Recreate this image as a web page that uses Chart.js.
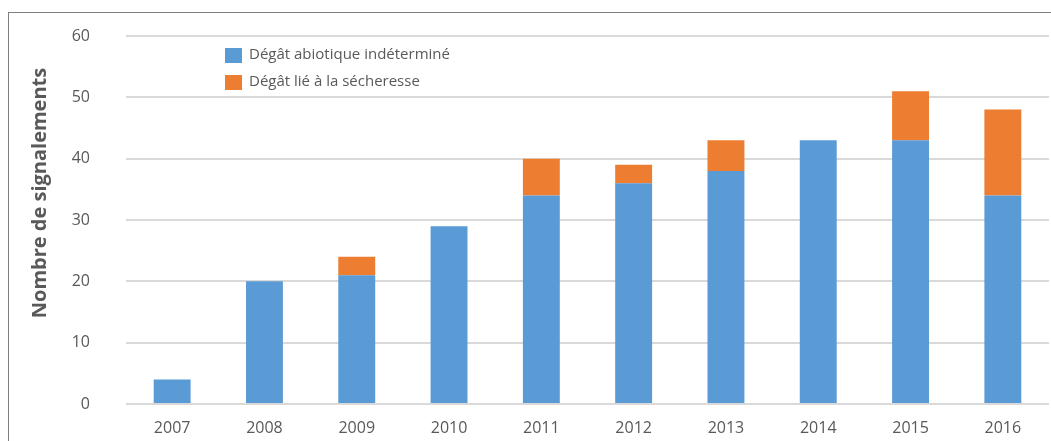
<!DOCTYPE html>
<html lang="fr">
<head>
<meta charset="utf-8">
<title>Signalements de dégâts abiotiques</title>
<script src="https://cdn.jsdelivr.net/npm/chart.js@4"></script>
<style>
  html, body { margin: 0; padding: 0; background: #fff; overflow: hidden; }
  #wrap { position: relative; width: 1051px; height: 441px; }
  #frame { position: absolute; left: 8px; top: 12px; width: 1100px; height: 500px;
           border-left: 1px solid #7f7f7f; border-top: 1px solid #7f7f7f; }
  #box { position: absolute; left: 0; top: 0; width: 1051px; height: 441px; }
</style>
</head>
<body>
<div id="wrap">
  <div id="frame"></div>
  <div id="box"><canvas id="myChart"></canvas></div>
</div>
<script>
const annees = ["2007", "2008", "2009", "2010", "2011", "2012", "2013", "2014", "2015", "2016"];
const abiotique = [4, 20, 21, 29, 34, 36, 38, 43, 43, 34];
const secheresse = [0, 0, 3, 0, 6, 3, 5, 0, 8, 14];
const yTicks = [0, 10, 20, 30, 40, 50, 60];

const gris = "#595959";
const police = "'Open Sans', 'DejaVu Sans', sans-serif";

// legende dessinee dans la zone du graphique, en haut a gauche
const legendeInterne = {
  id: "legendeInterne",
  afterDraw(chart) {
    const ctx = chart.ctx;
    ctx.save();
    ctx.font = "15px " + police;
    ctx.textBaseline = "middle";
    ctx.textAlign = "left";
    chart.data.datasets.forEach((ds, i) => {
      const y = 55 + i * 27;
      ctx.fillStyle = ds.backgroundColor;
      ctx.fillRect(225, y - 7, 17, 15);
      ctx.fillStyle = gris;
      ctx.fillText(ds.label, 249, y);
    });
    ctx.restore();
  }
};

// titre de l'axe vertical
const titreAxe = {
  id: "titreAxe",
  afterDraw(chart) {
    const ctx = chart.ctx;
    ctx.save();
    ctx.translate(40, 193);
    ctx.rotate(-Math.PI / 2);
    ctx.font = "bold 20px " + police;
    ctx.fillStyle = gris;
    ctx.textAlign = "center";
    ctx.textBaseline = "middle";
    ctx.fillText("Nombre de signalements", 0, 0);
    ctx.restore();
  }
};

new Chart(document.getElementById("myChart"), {
  type: "bar",
  data: {
    labels: annees,
    datasets: [
      {
        label: "Dégât abiotique indéterminé",
        data: abiotique,
        backgroundColor: "#5B9BD5",
        barPercentage: 0.4,
        categoryPercentage: 1
      },
      {
        label: "Dégât lié à la sécheresse",
        data: secheresse,
        backgroundColor: "#ED7D31",
        barPercentage: 0.4,
        categoryPercentage: 1
      }
    ]
  },
  options: {
    responsive: true,
    maintainAspectRatio: false,
    animation: false,
    layout: { padding: { top: 36, right: 2, left: 0, bottom: 0 } },
    plugins: {
      legend: { display: false },
      tooltip: { enabled: false }
    },
    scales: {
      x: {
        stacked: true,
        grid: { display: false },
        border: { display: false },
        ticks: { color: gris, font: { family: police, size: 16 }, padding: 7 },
        afterFit(scale) {
          scale.height = 37;
          scale.paddingLeft = 0;
          scale.paddingRight = 0;
        }
      },
      y: {
        stacked: true,
        min: 0,
        max: 60,
        afterBuildTicks(scale) { scale.ticks = yTicks.map(v => ({ value: v })); },
        grid: { color: "#D9D9D9", lineWidth: 2, drawTicks: false },
        border: { display: false },
        ticks: { color: gris, font: { family: police, size: 16 }, padding: 36 },
        afterFit(scale) {
          scale.width = 126;
          scale.paddingTop = 0;
          scale.paddingBottom = 0;
        }
      }
    }
  },
  plugins: [legendeInterne, titreAxe]
});
</script>
</body>
</html>
